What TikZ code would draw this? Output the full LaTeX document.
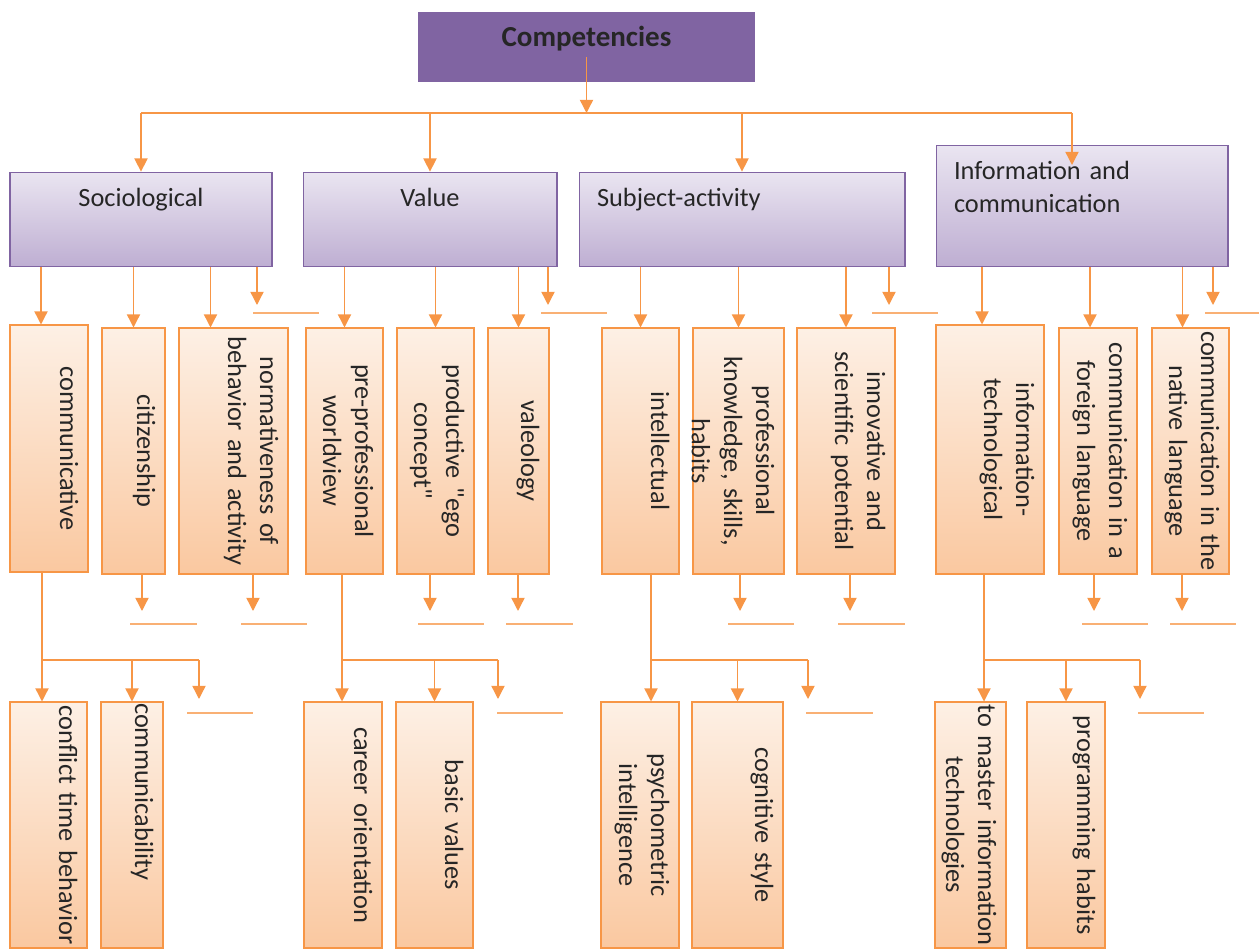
\documentclass[tikz,border=0pt]{standalone}
\usepackage{fontspec}
\setmainfont{Carlito}[Ligatures=TeXOff]
\usepackage{graphicx}
\usetikzlibrary{arrows.meta}
\usetikzlibrary{calc}

\definecolor{compfill}{HTML}{8064A2}
\definecolor{catline}{HTML}{8064A2}
\definecolor{cattop}{HTML}{EAE5F1}
\definecolor{catbot}{HTML}{BEAED2}
\definecolor{leafline}{HTML}{F79646}
\definecolor{leaftop}{HTML}{FDF0E5}
\definecolor{leafbot}{HTML}{FAC8A0}
\definecolor{txt}{HTML}{262626}

% rotated label, read from top to bottom
\newcommand{\vtext}[1]{\llap{\rotatebox{-90}{\begin{tabular}{@{}c@{}}#1\end{tabular}}}\kern3pt}

\tikzset{
  comp/.style={fill=compfill, minimum width=6.74cm, minimum height=1.4cm, inner sep=0pt,
    font=\fontsize{16.5}{19}\selectfont\bfseries, text=txt, text height=8pt, text depth=8pt},
  cat/.style={draw=catline, line width=0.6pt, top color=cattop, bottom color=catbot,
    inner xsep=0.36cm, inner ysep=0pt, font=\fontsize{15}{19}\selectfont, text=txt, text height=19.3pt},
  leaf/.style={draw=leafline, line width=0.6pt, top color=leaftop, bottom color=leafbot,
    inner sep=0pt, align=right, font=\fontsize{15}{18.3}\selectfont, text=txt},
  conn/.style={draw=leafline, line width=0.8pt, -{Triangle[width=7.5pt,length=7.5pt]}},
  wire/.style={draw=leafline, line width=0.8pt},
  stub/.style={draw=leafline!75, line width=0.8pt}
}

\begin{document}
\begin{tikzpicture}[x=0.02cm,y=-0.02cm]
  \useasboundingbox (0,0) rectangle (1259,949);

  \node[comp] (comp) at (586.5,47) {Competencies};

  % groups
  \node[cat, text width=4.52cm, align=center, text depth=34.6pt] (soc) at (141,219.5) {Sociological};
  \node[cat, text width=4.36cm, align=center, text depth=34.6pt] (val) at (430,219.5) {Value};
  \node[cat, text width=5.80cm, align=left, text depth=34.6pt] (subj) at (742,219.5) {Subject-activity};
  \node[cat, text width=5.12cm, align=left, text depth=49.9pt] (info) at (1082,206) {Information and\\communication};

  % second row
  \node[leaf, text width=1.56cm, minimum height=4.94cm] (comm) at (49,448.5) {\vtext{communicative}};
  \node[leaf, text width=1.26cm, minimum height=4.92cm] (citi) at (133.5,451) {\vtext{citizenship}};
  \node[leaf, text width=2.18cm, minimum height=4.92cm] (norm) at (233.5,451) {\vtext{normativeness of\\behavior and activity}};
  \node[leaf, text width=1.54cm, minimum height=4.92cm] (prep) at (344.5,451) {\vtext{pre-professional\\worldview}};
  \node[leaf, text width=1.54cm, minimum height=4.92cm] (prod) at (435.5,451) {\vtext{productive "ego\\concept"}};
  \node[leaf, text width=1.22cm, minimum height=4.92cm] (vale) at (518.5,451) {\vtext{valeology}};
  \node[leaf, text width=1.54cm, minimum height=4.92cm] (intel) at (640.5,451) {\vtext{intellectual}};
  \node[leaf, text width=1.82cm, minimum height=4.92cm] (prof) at (738.5,451) {\vtext{professional\\knowledge, skills,\\habits}};
  \node[leaf, text width=1.96cm, minimum height=4.92cm] (innov) at (846,451) {\vtext{innovative and\\scientific potential}};
  \node[leaf, text width=2.16cm, minimum height=4.98cm] (itech) at (990,449.5) {\vtext{information-\\technological}};
  \node[leaf, text width=1.56cm, minimum height=4.92cm] (forg) at (1098,451) {\vtext{communication in a\\foreign language}};
  \node[leaf, text width=1.54cm, minimum height=4.92cm] (natv) at (1190.5,451) {\vtext{communication in the\\native language}};

  % third row
  \node[leaf, text width=1.54cm, minimum height=4.92cm] (conf) at (48.5,825) {\vtext{conflict time behavior}};
  \node[leaf, text width=1.24cm, minimum height=4.92cm] (cmty) at (132,825) {\vtext{communicability\hspace*{38pt}}};
  \node[leaf, text width=1.56cm, minimum height=4.92cm] (career) at (343,825) {\vtext{career orientation}};
  \node[leaf, text width=1.54cm, minimum height=4.92cm] (basic) at (434.5,825) {\vtext{basic values}};
  \node[leaf, text width=1.56cm, minimum height=4.92cm] (psych) at (640,825) {\vtext{psychometric\\intelligence}};
  \node[leaf, text width=1.82cm, minimum height=4.92cm] (cogn) at (737.5,825) {\vtext{cognitive style}};
  \node[leaf, text width=1.42cm, minimum height=4.92cm] (mast) at (970.5,825) {\vtext{to master information\\technologies}};
  \node[leaf, text width=1.56cm, minimum height=4.92cm] (prog) at (1066,825) {\vtext{programming habits}};

  % top bus
  \coordinate (bus) at (586,113);
  \coordinate (infoin) at (1072,165);
  \draw[conn] ($(comp.center)+(0,10)$) -- (comp.center |- bus);
  \draw[wire] (bus -| soc.north) -- (bus -| infoin);
  \foreach \n in {soc,val,subj}
    \draw[conn] (bus -| \n.north) -- (\n.north);
  \draw[conn] (bus -| infoin) -- (infoin);

  % groups to second row
  \foreach \src/\dst/\dx in {soc/comm/-8, soc/citi/0, soc/norm/-23, val/prep/0, val/prod/0, val/vale/0,
      subj/intel/0, subj/prof/0, subj/innov/0, info/itech/-8, info/forg/-8, info/natv/-8}
    \draw[conn] ($(\src.south -| \dst.north)+(\dx,0)$) -- ($(\dst.north)+(\dx,0)$);
  \foreach \n/\x in {soc/257, val/548, subj/889, info/1213} {
    \coordinate (\n free) at (\x,305);
    \draw[conn] (\n.south -| \n free) -- (\n free);
  }
  \foreach \a/\b in {253/319, 541/607, 872/938, 1205/1259}
    \draw[stub] (\a,313) -- (\b,313);

  % open arrows under second row
  \foreach \n/\x in {citi/142, norm/253, prod/430, vale/518, prof/740, innov/850, forg/1094, natv/1182} {
    \coordinate (\n free) at (\x,611);
    \draw[conn] (\n.south -| \n free) -- (\n free);
  }
  \foreach \a/\b in {130/197, 241/307, 418/484, 506/573, 728/794, 838/905, 1082/1148, 1170/1236}
    \draw[stub] (\a,624) -- (\b,624);

  % branches to third row
  \foreach \p/\f/\s/\fx/\fe in {comm/conf/cmty/42/199, prep/career/basic/342/498,
      intel/psych/cogn/651/808, itech/mast/prog/984/1140} {
    \coordinate (\p fork) at (\fx,660);
    \coordinate (\p free) at (\fe,699);
    \draw[conn] (\p.south -| \p fork) -- (\f.north -| \p fork);
    \draw[wire] (\p fork) -- (\p fork -| \p free);
    \draw[conn] (\p fork -| \s.north) -- (\s.north);
    \draw[conn] (\p fork -| \p free) -- (\p free);
  }
  \foreach \a/\b in {187/253, 497/563, 806/873, 1138/1204}
    \draw[stub] (\a,713) -- (\b,713);
\end{tikzpicture}
\end{document}
